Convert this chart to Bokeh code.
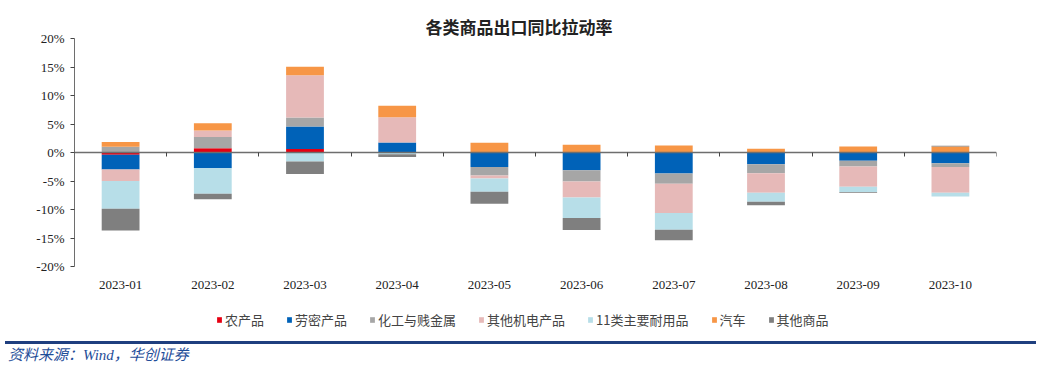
from bokeh.plotting import figure
from bokeh.embed import file_html
from bokeh.resources import INLINE
from bokeh.layouts import column
from bokeh.models import (ColumnDataSource, Legend, LegendItem, LinearAxis, FixedTicker,
                          Range1d, Div, CustomJSTickFormatter)

months = ["2023-01", "2023-02", "2023-03", "2023-04", "2023-05",
          "2023-06", "2023-07", "2023-08", "2023-09", "2023-10"]
series_names = ["农产品", "劳密产品", "化工与贱金属", "其他机电产品", "11类主要耐用品", "汽车", "其他商品"]
agri      = [-0.4, 0.75, 0.6, 0.0, 0.0, 0.0, 0.0, 0.0, 0.0, 0.0]
labor     = [-2.6, -2.75, 3.95, 1.75, -2.55, -3.1, -3.7, -2.05, -1.45, -1.9]
chem      = [1.0, 1.95, 1.6, 0.0, -1.5, -2.0, -1.8, -1.6, -1.0, -0.65]
mech      = [-2.0, 1.15, 7.4, 4.45, -0.5, -2.8, -5.1, -3.4, -3.55, -4.5]
durable   = [-4.85, -4.5, -1.6, -0.3, -2.35, -3.6, -2.95, -1.6, -0.95, -0.65]
auto      = [0.85, 1.3, 1.5, 2.0, 1.7, 1.35, 1.25, 0.65, 1.05, 1.05]
other     = [-3.85, -0.95, -2.15, -0.5, -2.1, -2.1, -1.85, -0.6, -0.1, 0.15]
y_ticks = [-20, -15, -10, -5, 0, 5, 10, 15, 20]
colors = ["#E60012", "#0062B8", "#A6A6A6", "#E6B9B8", "#B7DEE8", "#F79646", "#7F7F7F"]

series = [agri, labor, chem, mech, durable, auto, other]
keys = ["s%d" % i for i in range(len(series))]
data = {"month": months}
for k, s in zip(keys, series):
    data[k + "_pos"] = [max(v, 0.0) for v in s]
    data[k + "_neg"] = [min(v, 0.0) for v in s]
src = ColumnDataSource(data)

p = figure(x_range=months, y_range=Range1d(-20, 20), frame_width=922, frame_height=228,
           output_backend="svg", toolbar_location=None,
           min_border_left=74, min_border_right=45, min_border_top=38, min_border_bottom=39,
           outline_line_color=None, background_fill_color="white", border_fill_color="white")

p.title.text = "各类商品出口同比拉动率"
p.title.align = "left"
p.title.offset = 351
p.title.standoff = 0
p.title.text_font = "Noto Sans CJK SC"
p.title.text_font_size = "17px"
p.title.text_font_style = "bold"
p.title.text_color = "#222222"

p.vbar_stack([k + "_pos" for k in keys], x="month", width=0.41, source=src,
             color=colors, line_color=None)
p.vbar_stack([k + "_neg" for k in keys], x="month", width=0.41, source=src,
             color=colors, line_color=None)

p.xgrid.visible = False
p.ygrid.visible = False

xa = p.xaxis[0]
xa.axis_line_color = None
xa.major_tick_line_color = None
xa.minor_tick_line_color = None
xa.major_label_standoff = 8
xa.major_label_text_font = "Liberation Serif"
xa.major_label_text_font_size = "13px"
xa.major_label_text_color = "#222222"

# zero line with ticks at category boundaries (synthetic coordinates 0..N)
zax = LinearAxis(ticker=FixedTicker(ticks=list(range(0, len(months) + 1))),
                 fixed_location=0, major_label_text_font_size="0px", major_label_text_color=None,
                 axis_line_color="#6E6E6E", axis_line_width=1.3, major_tick_line_color="#444444",
                 major_tick_out=0, major_tick_in=4, minor_tick_line_color=None,
                 major_label_standoff=0)
p.add_layout(zax, "above")

ya = p.yaxis[0]
ya.ticker = FixedTicker(ticks=y_ticks)
ya.formatter = CustomJSTickFormatter(code="return tick + '%';")
ya.axis_line_color = "#6E6E6E"
ya.major_tick_line_color = "#444444"
ya.major_tick_out = 4
ya.major_tick_in = 0
ya.minor_tick_line_color = None
ya.major_label_standoff = 6
ya.major_label_text_font = "Liberation Serif"
ya.major_label_text_font_size = "13px"
ya.major_label_text_color = "#222222"

# legend strip: same series, value range kept out of view so only the legend shows
lf = figure(x_range=months, y_range=Range1d(100, 101), frame_width=1041, frame_height=28,
            output_backend="svg", toolbar_location=None,
            x_axis_location=None, y_axis_location=None,
            min_border_left=0, min_border_right=0, min_border_top=0, min_border_bottom=0,
            outline_line_color=None, background_fill_color="white", border_fill_color="white")
lf.xgrid.visible = False
lf.ygrid.visible = False
leg_r = lf.vbar_stack([k + "_pos" for k in keys], x="month", width=0.41, source=src,
                      color=colors, line_color=None)
items = [LegendItem(label=n, renderers=[r]) for n, r in zip(series_names, leg_r)]
leg = Legend(items=items, orientation="horizontal", location=(216, 4),
             label_text_font="Noto Sans CJK SC", label_text_font_size="13px",
             label_height=16, glyph_width=6, glyph_height=7, spacing=22, label_standoff=3,
             border_line_color=None, background_fill_alpha=0, padding=0, margin=0)
lf.add_layout(leg, "center")

footer = Div(width=1041, height=38, styles={"position": "relative", "margin": "0", "padding": "0"},
             text=('<div style="position:absolute;left:5px;top:8px;width:1031px;height:3px;'
                   'background:#1F3F7F"></div>'
                   '<div style="position:absolute;left:8px;top:12px;white-space:nowrap;'
                   'font-family:\'Liberation Serif\',\'Noto Sans CJK SC\';font-style:italic;'
                   'font-size:15px;color:#1F4E99">资料来源：Wind，华创证券</div>'))

open("out.html", "w").write(file_html(column(p, lf, footer, spacing=0), INLINE))
